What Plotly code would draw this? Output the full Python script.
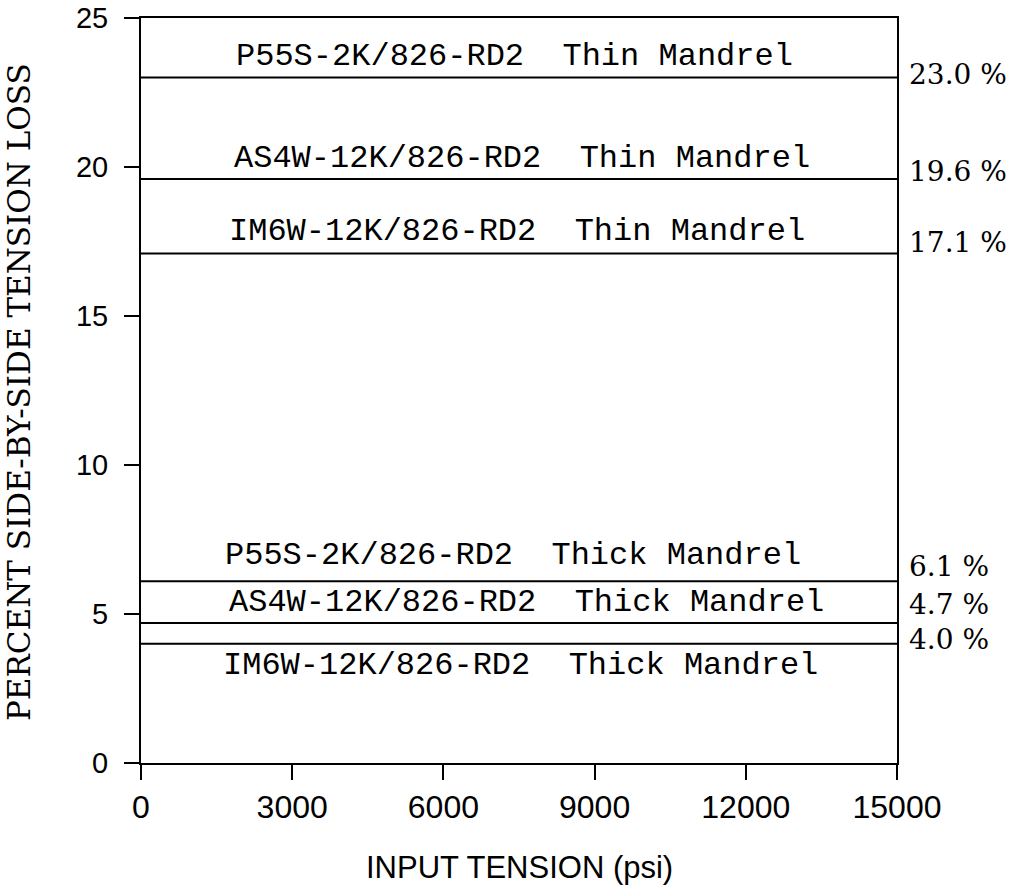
import plotly.graph_objects as go

# ---- data ----
materials = ["P55S-2K/826-RD2", "AS4W-12K/826-RD2", "IM6W-12K/826-RD2",
             "P55S-2K/826-RD2", "AS4W-12K/826-RD2", "IM6W-12K/826-RD2"]
mandrels = ["Thin Mandrel", "Thin Mandrel", "Thin Mandrel",
            "Thick Mandrel", "Thick Mandrel", "Thick Mandrel"]
loss_pct = [23.0, 19.6, 17.1, 6.1, 4.7, 4.0]
x_span = [0, 15000]
x_ticks = [0, 3000, 6000, 9000, 12000, 15000]
y_ticks = [0, 5, 10, 15, 20, 25]

# layout: text placement (offsets in y units, centres in pixels)
name_offsets = [0.70, 0.67, 0.75, 0.85, 0.69, -0.74]
name_x_px = [514, 522, 517, 513, 526, 520]
pct_offsets = [0.12, 0.25, 0.35, 0.50, 0.62, 0.15]

W, H = 1021, 890
L, R, T, B = 141, 124, 18, 127
PW = W - L - R
PH = H - T - B

fig = go.Figure()
for v in loss_pct:
    fig.add_trace(go.Scatter(x=x_span, y=[v, v], mode="lines",
                             line=dict(color="black", width=2),
                             showlegend=False, hoverinfo="skip"))

mono = "Liberation Mono, Courier New, monospace"
serif = "DejaVu Serif, serif"
sans = "Liberation Sans, Arial, sans-serif"

ann = []
for m, md, v, off, xp in zip(materials, mandrels, loss_pct, name_offsets, name_x_px):
    ann.append(dict(x=(xp - L) / PW, y=v + off, xref="paper", yref="y",
                    text=f"{m}&nbsp;&nbsp;{md}", showarrow=False,
                    xanchor="center", yanchor="middle",
                    font=dict(family=mono, size=32, color="black")))
for v, off in zip(loss_pct, pct_offsets):
    ann.append(dict(x=(908 - L) / PW, y=v + off, xref="paper", yref="y",
                    text=f"{v:.1f} %", showarrow=False,
                    xanchor="left", yanchor="middle", borderpad=0,
                    font=dict(family=serif, size=28, color="black")))
# axis titles
ann.append(dict(x=(19.5 - L) / PW, y=(H - B - 392.5) / PH,
                xref="paper", yref="paper", text="PERCENT SIDE-BY-SIDE TENSION LOSS",
                textangle=-90, showarrow=False, xanchor="center", yanchor="middle",
                font=dict(family=serif, size=31, color="black")))
ann.append(dict(x=0.5, y=(H - B - 867) / PH,
                xref="paper", yref="paper", text="INPUT TENSION (psi)",
                showarrow=False, xanchor="center", yanchor="middle",
                font=dict(family=sans, size=31, color="black")))

fig.update_layout(
    width=W, height=H,
    margin=dict(l=L, r=R, t=T, b=B, autoexpand=False),
    paper_bgcolor="white", plot_bgcolor="white",
    annotations=ann,
    xaxis=dict(range=x_span, tickvals=x_ticks, ticktext=[str(t) for t in x_ticks],
               showgrid=False, zeroline=False, showline=True, linecolor="black",
               linewidth=2, mirror=True, ticks="outside", ticklen=15, tickwidth=2,
               tickcolor="black", ticklabelstandoff=0, automargin=False,
               tickfont=dict(family=sans, size=32, color="black")),
    yaxis=dict(range=[0, 25], tickvals=y_ticks, ticktext=[str(t) for t in y_ticks],
               showgrid=False, zeroline=False, showline=True, linecolor="black",
               linewidth=2, mirror=True, ticks="outside", ticklen=15, tickwidth=2,
               tickcolor="black", ticklabelstandoff=10, automargin=False,
               tickfont=dict(family=sans, size=29, color="black")),
)

fig.write_html("out.html")
